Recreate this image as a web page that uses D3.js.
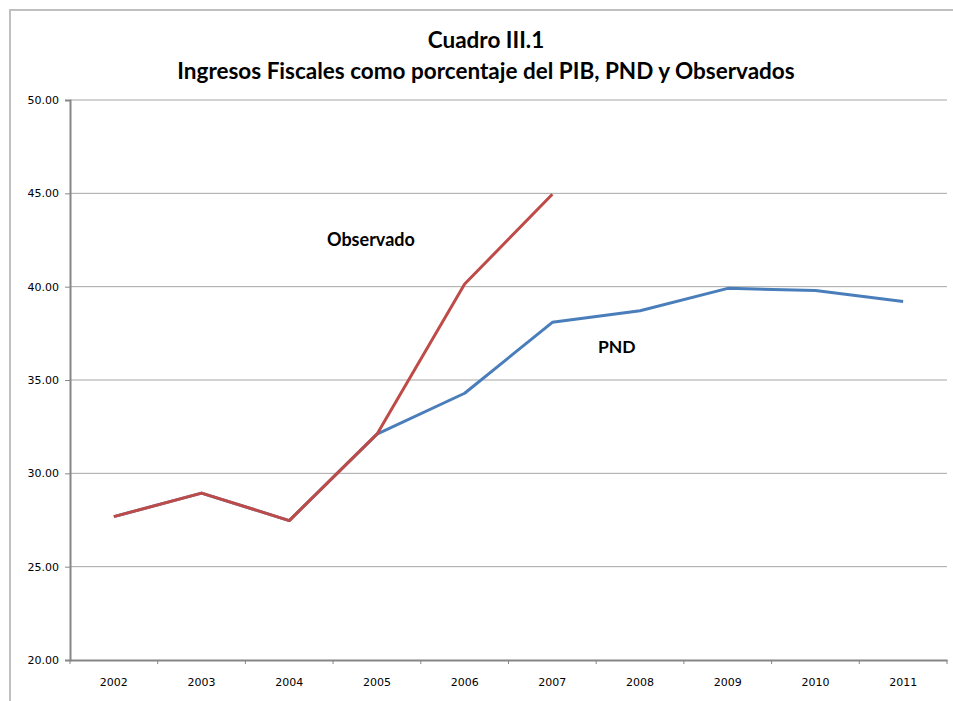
<!DOCTYPE html>
<html>
<head>
<meta charset="utf-8">
<script src="https://cdn.jsdelivr.net/npm/d3@7"></script>
<style>
  body { margin: 0; background: #fff; }
  .tick text { font-family: "DejaVu Sans", sans-serif; font-size: 11px; fill: #000; }
</style>
</head>
<body>
<script>
const w = 953;
const h = 701;
const years = ["2002", "2003", "2004", "2005", "2006", "2007", "2008", "2009", "2010", "2011"];
const pnd = [27.68, 28.94, 27.47, 32.1, 34.29, 38.09, 38.71, 39.91, 39.79, 39.2];
const observado = [27.68, 28.94, 27.47, 32.1, 40.14, 44.95];
const yTicks = [20, 25, 30, 35, 40, 45, 50];
const titleLines = ["Cuadro III.1", "Ingresos Fiscales como porcentaje del PIB, PND y Observados"];

const plotLeft = 70, plotRight = 947, plotTop = 100, plotBottom = 660;

const svg = d3.select("body").append("svg")
  .attr("width", w)
  .attr("height", h);

// chart frame
svg.append("path")
  .attr("d", "M10," + h + " V10 H" + w)
  .attr("fill", "none")
  .attr("stroke", "#bfbfbf")
  .attr("stroke-width", 2);

const xScale = d3.scaleBand().domain(years).range([plotLeft, plotRight]);
const yScale = d3.scaleLinear().domain([20, 50]).range([plotBottom, plotTop]);

// gridlines
svg.append("g")
  .selectAll("line")
  .data(yTicks.slice(1))
  .enter()
  .append("line")
  .attr("x1", plotLeft)
  .attr("x2", plotRight)
  .attr("y1", d => yScale(d))
  .attr("y2", d => yScale(d))
  .attr("stroke", "#a6a6a6")
  .attr("stroke-width", 1);

const yAxis = d3.axisLeft(yScale).tickValues(yTicks).tickFormat(d3.format(".2f")).tickSize(5).tickPadding(6);
const yG = svg.append("g")
  .attr("transform", "translate(" + plotLeft + ",0)")
  .call(yAxis);
yG.select(".domain").attr("stroke", "#868686").attr("stroke-width", 2);
yG.selectAll(".tick line").attr("stroke", "#868686");

const xAxis = d3.axisBottom(xScale).tickSize(0).tickPadding(18);
const xG = svg.append("g")
  .attr("transform", "translate(0," + plotBottom + ")")
  .call(xAxis);
xG.select(".domain").attr("stroke", "#868686").attr("stroke-width", 2);

// category boundary ticks
svg.append("g")
  .selectAll("line")
  .data(years.concat(["end"]))
  .enter()
  .append("line")
  .attr("x1", (d, i) => i < years.length ? xScale(d) : plotRight)
  .attr("x2", (d, i) => i < years.length ? xScale(d) : plotRight)
  .attr("y1", plotBottom)
  .attr("y2", plotBottom + 4)
  .attr("stroke", "#868686");

const line = d3.line()
  .x((d, i) => xScale(years[i]) + xScale.bandwidth() / 2)
  .y(d => yScale(d));

svg.append("path")
  .datum(pnd)
  .attr("d", line)
  .attr("fill", "none")
  .attr("stroke", "#4a7ebb")
  .attr("stroke-width", 3)
  .attr("stroke-linejoin", "round");

svg.append("path")
  .datum(observado)
  .attr("d", line)
  .attr("fill", "none")
  .attr("stroke", "#be4b48")
  .attr("stroke-width", 3)
  .attr("stroke-linejoin", "round");

// titles
svg.selectAll(".title")
  .data(titleLines)
  .enter()
  .append("text")
  .attr("class", "title")
  .attr("x", 486)
  .attr("y", (d, i) => 48 + i * 31)
  .attr("text-anchor", "middle")
  .style("font-family", "Lato, sans-serif")
  .style("font-weight", "bold")
  .style("font-size", "22.5px")
  .text(d => d);

svg.append("text")
  .attr("x", 327)
  .attr("y", 246)
  .style("font-family", "Lato, sans-serif")
  .style("font-weight", "bold")
  .style("font-size", "18px")
  .text("Observado");

svg.append("text")
  .attr("x", 598)
  .attr("y", 353)
  .style("font-family", "Lato, sans-serif")
  .style("font-weight", "bold")
  .style("font-size", "17.5px")
  .text("PND");
</script>
</body>
</html>
